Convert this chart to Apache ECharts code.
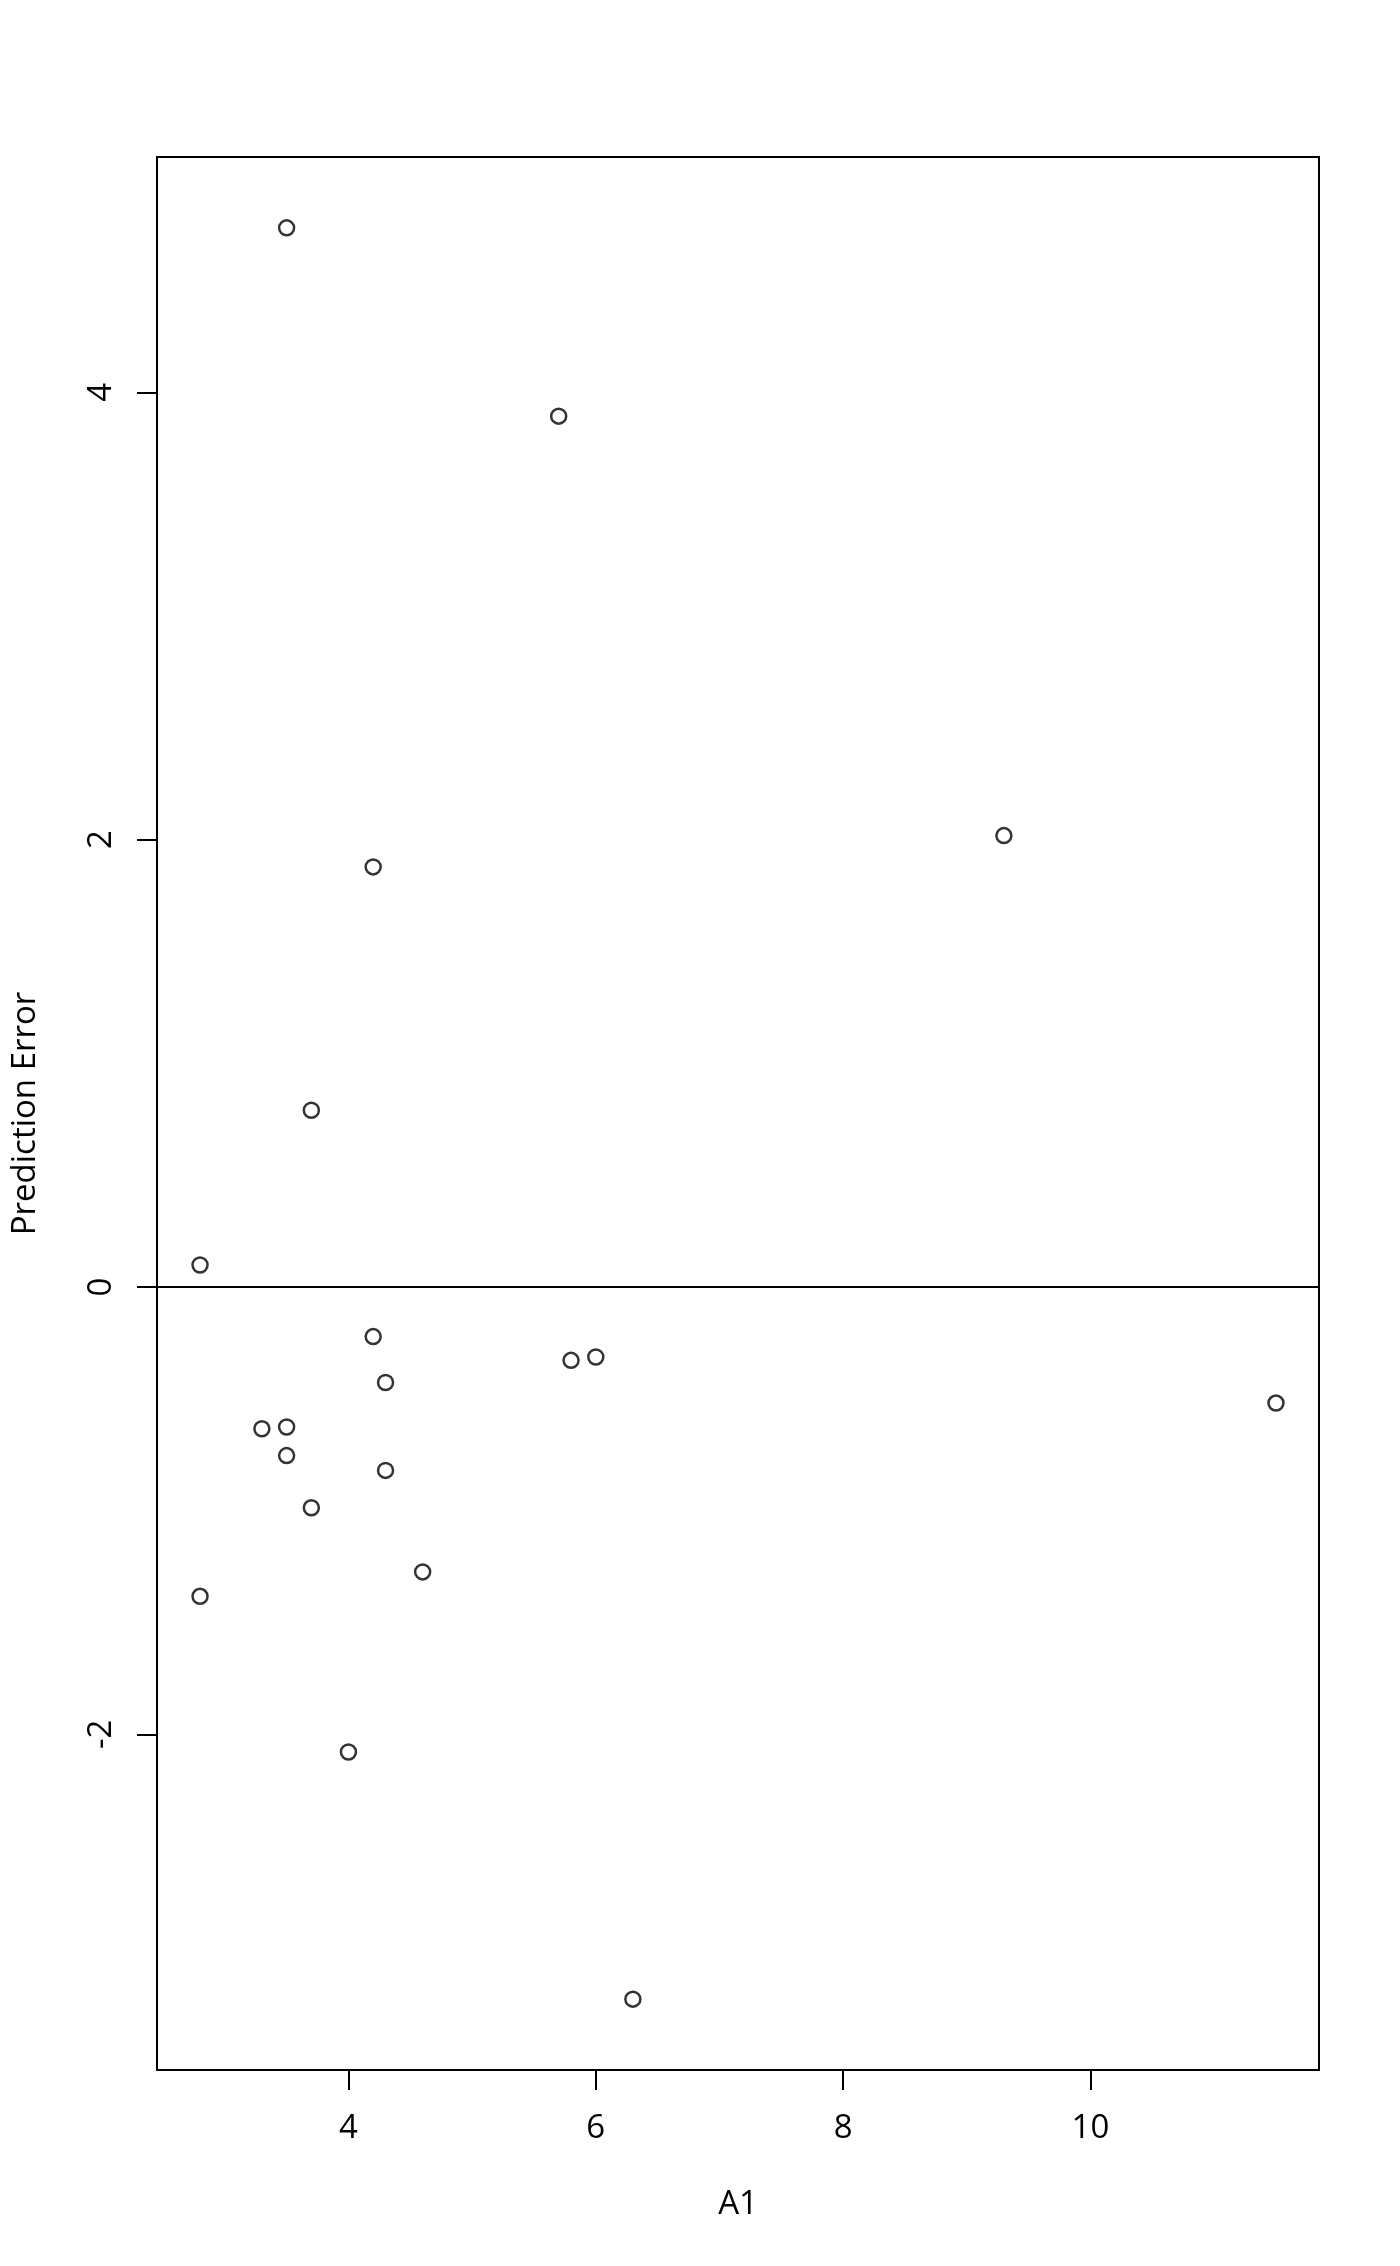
<!DOCTYPE html>
<html>
<head>
<meta charset="utf-8">
<script src="https://cdn.jsdelivr.net/npm/echarts@6/dist/echarts.min.js"></script>
<style>
html,body{margin:0;padding:0;background:#fff;}
#chart{width:1400px;height:2266px;}
</style>
</head>
<body>
<div id="chart"></div>
<script>
// Data
const a1Values = [3.5, 5.7, 9.3, 4.2, 3.7, 2.8, 4.2, 5.8, 6.0, 4.3, 11.5, 3.3, 3.5, 3.5, 4.3, 3.7, 4.6, 2.8, 4.0, 6.3];
const predictionErrors = [4.735, 3.893, 2.018, 1.878, 0.790, 0.098, -0.222, -0.328, -0.313, -0.427, -0.519, -0.634, -0.626, -0.754, -0.820, -0.987, -1.274, -1.383, -2.079, -3.184];
const xTicks = [4, 6, 8, 10];
const yTicks = [-2, 0, 2, 4];
const xName = 'A1';
const yName = 'Prediction Error';

const points = a1Values.map((x, i) => [x, predictionErrors[i]]);

// R-style 4% range extension
function extRange(arr) {
  const mn = Math.min(...arr), mx = Math.max(...arr);
  const d = (mx - mn) * 0.04;
  return [mn - d, mx + d];
}
const xr = extRange(a1Values);
const yr = extRange(predictionErrors);

const FONT = '"Open Sans", "Noto Sans", sans-serif';
const chart = echarts.init(document.getElementById('chart'), null, {renderer: 'canvas'});
chart.setOption({
  animation: false,
  backgroundColor: '#ffffff',
  grid: {left: 157, top: 157, right: 81, bottom: 196, show: true, borderColor: '#000', borderWidth: 2, backgroundColor: 'transparent'},
  xAxis: {
    type: 'value', min: xr[0], max: xr[1],
    name: xName, nameLocation: 'middle', nameGap: 118,
    nameTextStyle: {fontFamily: FONT, fontSize: 33, color: '#000'},
    axisLine: {show: true, onZero: false, lineStyle: {color: '#000', width: 2}},
    axisTick: {show: true, inside: false, length: 20, lineStyle: {color: '#000', width: 2}, customValues: xTicks},
    axisLabel: {show: true, margin: 42, fontFamily: FONT, fontSize: 33, color: '#000', customValues: xTicks},
    splitLine: {show: false}
  },
  yAxis: {
    type: 'value', min: yr[0], max: yr[1],
    name: yName, nameLocation: 'middle', nameGap: 115, nameRotate: 90,
    nameTextStyle: {fontFamily: FONT, fontSize: 33, color: '#000'},
    axisLine: {show: true, onZero: false, lineStyle: {color: '#000', width: 2}},
    axisTick: {show: true, inside: false, length: 20, lineStyle: {color: '#000', width: 2}, customValues: yTicks},
    axisLabel: {show: true, margin: 39, rotate: 90, fontFamily: FONT, fontSize: 33, color: '#000', customValues: yTicks},
    splitLine: {show: false}
  },
  series: [{
    type: 'scatter',
    data: points,
    symbol: 'circle',
    symbolSize: 15,
    itemStyle: {color: 'rgba(0,0,0,0)', borderColor: '#000', borderWidth: 2.5},
    silent: true,
    markLine: {
      silent: true,
      symbol: ['none', 'none'],
      label: {show: false},
      lineStyle: {type: 'solid', color: '#000', width: 2},
      data: [{yAxis: 0}]
    }
  }]
});
</script>
</body>
</html>
